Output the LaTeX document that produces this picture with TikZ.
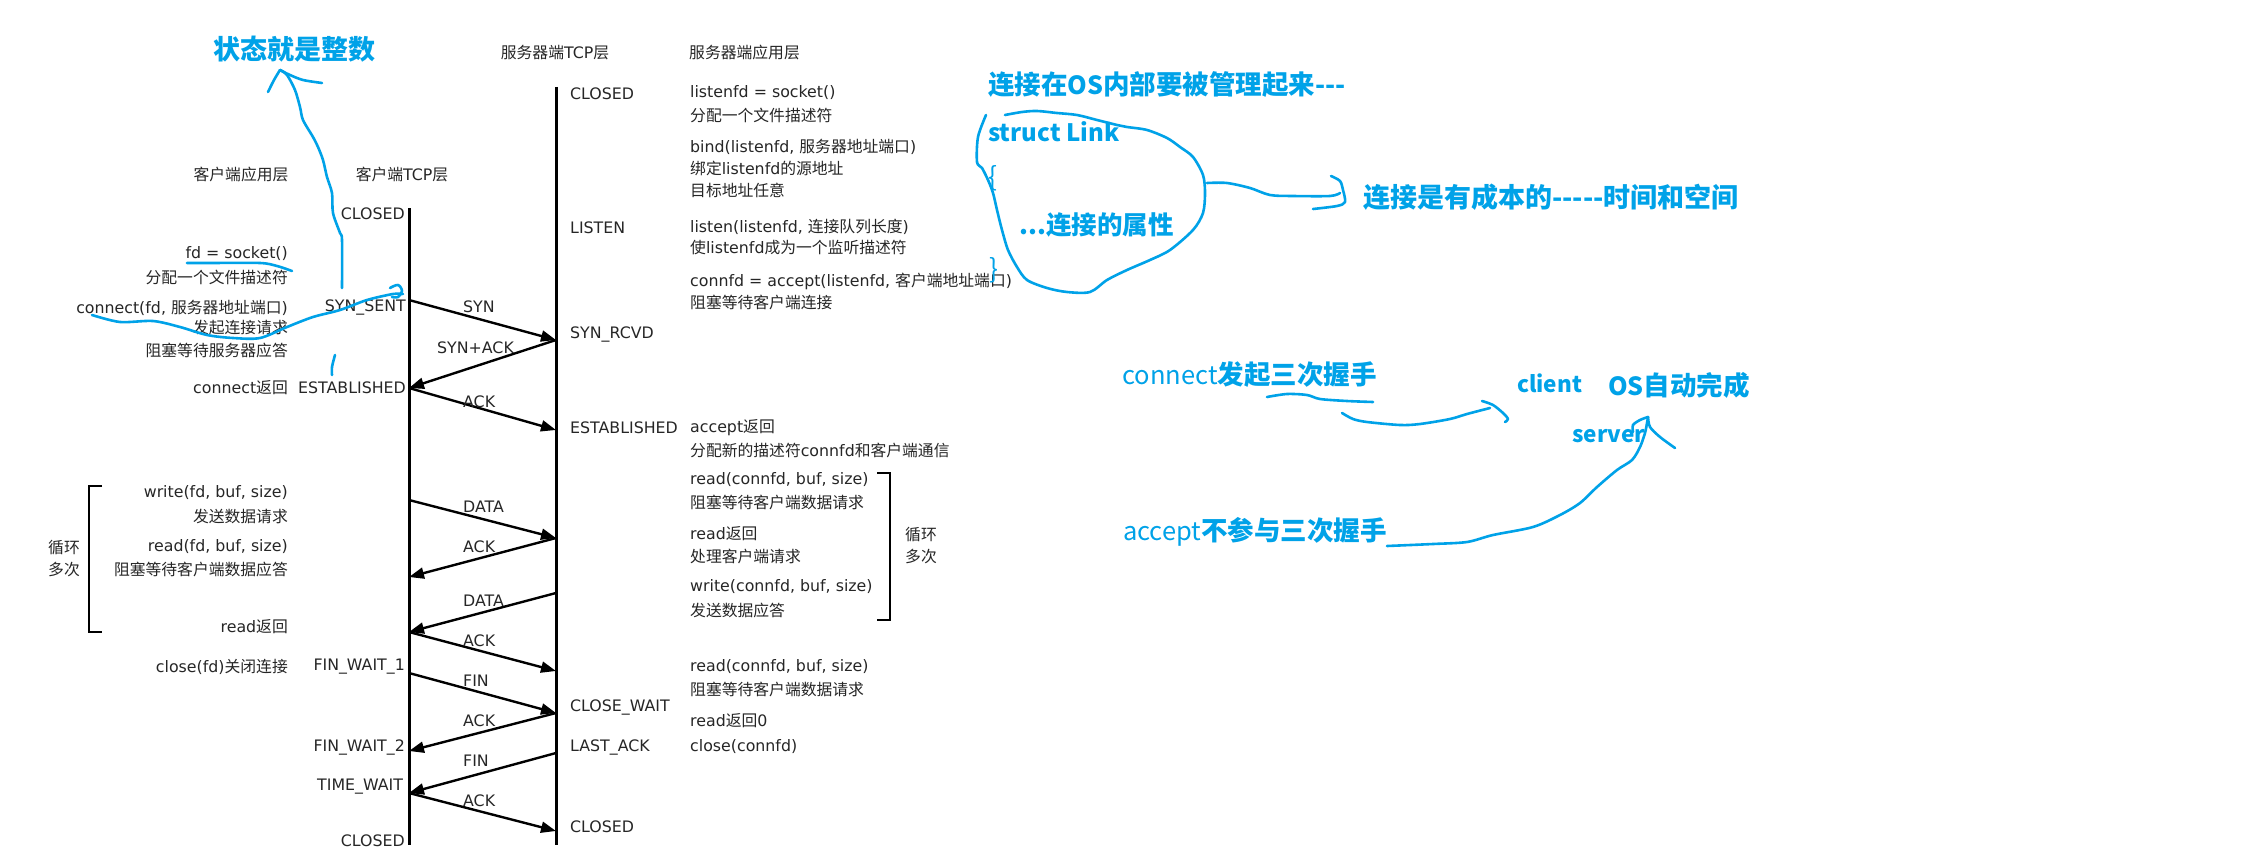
\documentclass[tikz,border=0pt]{standalone}
\usepackage{fontspec}
\setmainfont{DejaVu Sans}
\newfontfamily\zh{Noto Sans CJK SC}
\usetikzlibrary{arrows.meta}
\definecolor{txt}{RGB}{38,38,38}
\definecolor{hand}{RGB}{0,162,232}
\newcommand\Z[1]{{\zh #1}}
\newcommand\fsz[1]{\fontsize{#1}{#1}\selectfont}
\tikzset{
  tx/.style={inner sep=0pt, text=txt, font=\fontsize{15.8}{18}\selectfont},
  lt/.style={tx, anchor=west},
  rt/.style={tx, anchor=east},
  ct/.style={tx, anchor=center},
  life/.style={line width=3pt, black},
  msg/.style={line width=2.4pt, black, -{Triangle[length=15pt,width=11pt]}},
  brk/.style={line width=2.4pt, black},
  bt/.style={inner sep=0pt, text=hand, font=\zh\bfseries\fsz{26.5}},
  btr/.style={inner sep=0pt, text=hand, font=\zh\fsz{26.5}},
  pen/.style={draw=hand, line width=2.6pt, line cap=round, line join=round}
}
\begin{document}
\begin{tikzpicture}[x=1pt,y=-1pt]
\fill[white] (0,0) rectangle (2245,864);
\useasboundingbox (0,0) rectangle (2245,864);

% lifelines
\coordinate (cT) at (409,208); \coordinate (cB) at (409,845);
\coordinate (sT) at (556,87);  \coordinate (sB) at (556,845);
\draw[life] (cT) -- (cB);
\draw[life] (sT) -- (sB);

% headers
\node[ct] (h1) at (241,174) {\Z{客户端应用层}};
\node[ct] (h2) at (402,174) {\Z{客户端}TCP\Z{层}};
\node[ct] (h3) at (555,53) {\Z{服务器端}TCP\Z{层}};
\node[lt] (h4) at (689,53) {\Z{服务器端应用层}};

% client app text
\node[rt] (ca1) at (288,254) {fd = socket()};
\node[rt] (ca2) at (288,277) {\Z{分配一个文件描述符}};
\node[rt] (ca3) at (288,308) {connect(fd, \Z{服务器地址端口})};
\node[rt] (ca4) at (288,328) {\Z{发起连接请求}};
\node[rt] (ca5) at (288,350) {\Z{阻塞等待服务器应答}};
\node[rt] (ca6) at (288,388) {connect\Z{返回}};
\node[rt] (ca7) at (288,493) {write(fd, buf, size)};
\node[rt] (ca8) at (288,516) {\Z{发送数据请求}};
\node[rt] (ca9) at (288,547) {read(fd, buf, size)};
\node[rt] (ca10) at (288,569) {\Z{阻塞等待客户端数据应答}};
\node[rt] (ca11) at (288,627) {read\Z{返回}};
\node[rt] (ca12) at (288,667) {close(fd)\Z{关闭连接}};
\node[ct] (cl1) at (64,548) {\Z{循环}};
\node[ct] (cl2) at (64,570) {\Z{多次}};
\coordinate (lb1) at (102,486); \coordinate (lb2) at (89,486);
\coordinate (lb3) at (89,632);  \coordinate (lb4) at (102,632);
\draw[brk] (lb1) -- (lb2) -- (lb3) -- (lb4);

% client states
\node[rt] (cs1) at (405,214) {CLOSED};
\node[rt] (cs2) at (406,307) {SYN\_SENT};
\node[rt] (cs3) at (406,388) {ESTABLISHED};
\node[rt] (cs4) at (405,667) {FIN\_WAIT\_1};
\node[rt] (cs5) at (405,747) {FIN\_WAIT\_2};
\node[lt] (cs6) at (317,787) {TIME\_WAIT};
\node[rt] (cs7) at (405,841) {CLOSED};

% server states
\node[lt] (ss1) at (570,94) {CLOSED};
\node[lt] (ss2) at (570,228) {LISTEN};
\node[lt] (ss3) at (570,334) {SYN\_RCVD};
\node[lt] (ss4) at (570,428) {ESTABLISHED};
\node[lt] (ss5) at (570,707) {CLOSE\_WAIT};
\node[lt] (ss6) at (570,747) {LAST\_ACK};
\node[lt] (ss7) at (570,827) {CLOSED};

% server app text
\node[lt] (sa1) at (690,93) {listenfd = socket()};
\node[lt] (sa2) at (690,115) {\Z{分配一个文件描述符}};
\node[lt] (sa3) at (690,147) {bind(listenfd, \Z{服务器地址端口})};
\node[lt] (sa4) at (690,168) {\Z{绑定}listenfd\Z{的源地址}};
\node[lt] (sa5) at (690,190) {\Z{目标地址任意}};
\node[lt] (sa6) at (690,227) {listen(listenfd, \Z{连接队列长度})};
\node[lt] (sa7) at (690,248) {\Z{使}listenfd\Z{成为一个监听描述符}};
\node[lt] (sa8) at (690,281) {connfd = accept(listenfd, \Z{客户端地址端口})};
\node[lt] (sa9) at (690,302) {\Z{阻塞等待客户端连接}};
\node[lt] (sa10) at (690,428) {accept\Z{返回}};
\node[lt] (sa11) at (690,450) {\Z{分配新的描述符}connfd\Z{和客户端通信}};
\node[lt] (sa12) at (690,480) {read(connfd, buf, size)};
\node[lt] (sa13) at (690,502) {\Z{阻塞等待客户端数据请求}};
\node[lt] (sa14) at (690,534) {read\Z{返回}};
\node[lt] (sa15) at (690,556) {\Z{处理客户端请求}};
\node[lt] (sa16) at (690,587) {write(connfd, buf, size)};
\node[lt] (sa17) at (690,610) {\Z{发送数据应答}};
\node[lt] (sa18) at (690,667) {read(connfd, buf, size)};
\node[lt] (sa19) at (690,689) {\Z{阻塞等待客户端数据请求}};
\node[lt] (sa20) at (690,721) {read\Z{返回}0};
\node[lt] (sa21) at (690,747) {close(connfd)};
\node[ct] (sl1) at (921,535) {\Z{循环}};
\node[ct] (sl2) at (921,557) {\Z{多次}};
\coordinate (rb1) at (877,473); \coordinate (rb2) at (890,473);
\coordinate (rb3) at (890,620); \coordinate (rb4) at (877,620);
\draw[brk] (rb1) -- (rb2) -- (rb3) -- (rb4);

% message points
\foreach \y in {300,388,500,577,632,673,751,793} \coordinate (C\y) at (409,\y);
\foreach \y in {340,430,538,593,671,713,753,831} \coordinate (S\y) at (556,\y);
\draw[msg] (C300) -- (S340);
\draw[msg] (S340) -- (C388);
\draw[msg] (C388) -- (S430);
\draw[msg] (C500) -- (S538);
\draw[msg] (S538) -- (C577);
\draw[msg] (S593) -- (C632);
\draw[msg] (C632) -- (S671);
\draw[msg] (C673) -- (S713);
\draw[msg] (S713) -- (C751);
\draw[msg] (S753) -- (C793);
\draw[msg] (C793) -- (S831);

% message labels
\node[lt] (m1) at (463,307) {SYN};
\node[lt] (m2) at (437,348) {SYN+ACK};
\node[lt] (m3) at (463,402) {ACK};
\node[lt] (m4) at (463,507) {DATA};
\node[lt] (m5) at (463,547) {ACK};
\node[lt] (m6) at (463,601) {DATA};
\node[lt] (m7) at (463,641) {ACK};
\node[lt] (m8) at (463,681) {FIN};
\node[lt] (m9) at (463,721) {ACK};
\node[lt] (m10) at (463,761) {FIN};
\node[lt] (m11) at (463,801) {ACK};

% ---------- blue handwritten annotations ----------
\node[bt, font=\zh\bfseries\fsz{27}] (b1) at (294,49) {状态就是整数};
\node[bt, anchor=west] (b2) at (988,85) {连接在{\fsz{25}OS}内部要被管理起来---};
\node[bt, anchor=west, font=\zh\bfseries\fsz{24}] (b3) at (988,132) {struct Link};
\node[btr] (b4) at (993,178) {\{};
\node[bt, anchor=west, font=\zh\bfseries\fsz{25.5}] (b5) at (1019,225) {...连接的属性};
\node[btr] (b6) at (994,270) {\}};
\node[bt, anchor=west, font=\zh\bfseries\fsz{27}] (b7) at (1363,197) {连接是有成本的-----时间和空间};
\node[bt, anchor=west] (b8) at (1122,375) {{\mdseries\fsz{25.5}connect}发起三次握手};
\node[bt, anchor=west, font=\zh\bfseries\fsz{22.5}] (b9) at (1517,383) {client};
\node[bt, anchor=west] (b10) at (1608,385) {{\fsz{25}OS}自动完成};
\node[bt, anchor=west, font=\zh\bfseries\fsz{22.5}] (b11) at (1572,436) {server};
\node[bt, anchor=west] (b12) at (1123,532) {{\mdseries\fsz{25.5}accept}不参与三次握手};

% arrow to 状态就是整数
\draw[pen] plot[smooth, tension=0.5] coordinates {(342,288) (342,240) (340,233) (333,213) (332,193) (327,177) (323,160) (318,147) (313,137) (303,120) (300,107) (295,90) (287,75) (280,70)};
\draw[pen] plot[smooth, tension=0.5] coordinates {(280,70) (274,80) (268,92)};
\draw[pen] plot[smooth, tension=0.5] coordinates {(280,70) (290,75) (303,80) (322,83)};
\draw[pen] plot[smooth, tension=0.5] coordinates {(335,355) (332,367) (332,375)};
% underline fd = socket()
\draw[pen] plot[smooth, tension=0.5] coordinates {(187,263) (210,263) (260,263) (277,266) (292,271)};
% connect scribble
\draw[pen] plot[smooth, tension=0.5] coordinates {(92,315) (120,322) (153,321) (180,327) (207,335) (233,338) (260,338) (287,327) (313,317) (340,310) (367,300) (393,294) (403,294)};
\draw[pen] plot[smooth, tension=0.6] coordinates {(390,288) (398,285) (402,291) (398,297) (392,297)};
% loop around struct
\draw[pen] plot[smooth, tension=0.5] coordinates {(986,115) (978,137) (977,162) (982,168) (988,180) (993,193) (997,210) (1002,230) (1008,250) (1017,267) (1027,280) (1047,288) (1067,292) (1090,292) (1107,280) (1127,270) (1150,260) (1170,250) (1193,230) (1203,213) (1205,193) (1203,175) (1193,157) (1180,147) (1167,138) (1147,130) (1127,127) (1117,125) (1097,120) (1077,115) (1057,113) (1037,111) (1022,112) (1005,115)};
\draw[pen] plot[smooth, tension=0.5] coordinates {(1207,183) (1227,183) (1250,188) (1270,195) (1293,196) (1330,196) (1340,193)};
\draw[pen] plot[smooth, tension=0.5] coordinates {(1331,176) (1340,181) (1343,190) (1345,202) (1337,206) (1313,209)};
% connect underline and arrow
\draw[pen] plot[smooth, tension=0.5] coordinates {(1267,397) (1287,394) (1307,395) (1320,399) (1347,401) (1373,402)};
\draw[pen] plot[smooth, tension=0.5] coordinates {(1342,413) (1353,419) (1367,422) (1400,425) (1420,424) (1450,419) (1467,414) (1490,408)};
\draw[pen] plot[smooth, tension=0.5] coordinates {(1482,401) (1493,405) (1503,413) (1508,419) (1505,422)};
% accept arrow
\draw[pen] plot[smooth, tension=0.5] coordinates {(1387,546) (1433,544) (1467,542) (1493,535) (1533,527) (1560,515) (1580,503) (1597,487) (1617,470) (1632,460) (1640,447) (1645,433) (1647,423) (1648,417)};
\draw[pen] plot[smooth, tension=0.5] coordinates {(1648,417) (1640,420) (1633,425) (1633,432)};
\draw[pen] plot[smooth, tension=0.5] coordinates {(1648,417) (1650,427) (1660,437) (1675,448)};
\end{tikzpicture}
\end{document}
